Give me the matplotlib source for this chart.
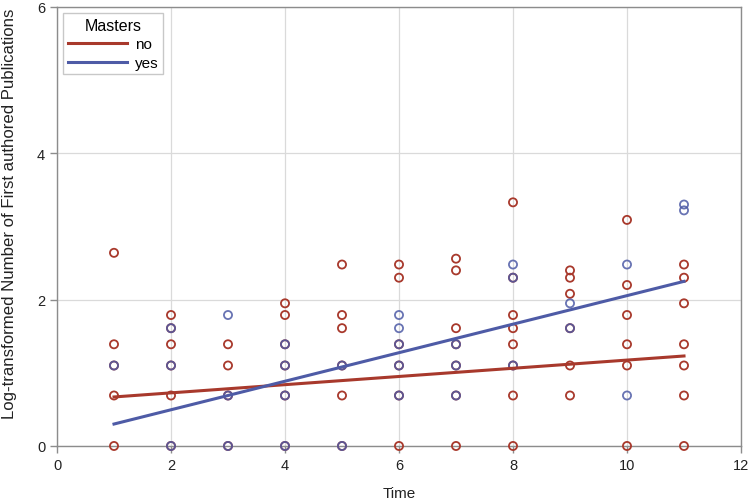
import matplotlib
matplotlib.use("Agg")
import matplotlib.pyplot as plt
from matplotlib import font_manager

# ---- data ----
times = [1, 2, 3, 4, 5, 6, 7, 8, 9, 10, 11]
no_values = [
    [0, 0.69, 1.10, 1.39, 2.64],
    [0, 0.69, 1.10, 1.39, 1.61, 1.79],
    [0, 0.69, 1.10, 1.39],
    [0, 0.69, 1.10, 1.39, 1.79, 1.95],
    [0, 0.69, 1.10, 1.61, 1.79, 2.48],
    [0, 0.69, 1.10, 1.39, 2.30, 2.48],
    [0, 0.69, 1.10, 1.39, 1.61, 2.40, 2.56],
    [0, 0.69, 1.10, 1.39, 1.61, 1.79, 2.30, 3.33],
    [0.69, 1.10, 1.61, 2.08, 2.30, 2.40],
    [0, 1.10, 1.39, 1.79, 2.20, 3.09],
    [0, 0.69, 1.10, 1.39, 1.95, 2.30, 2.48],
]
yes_values = [
    [1.10],
    [0, 1.10, 1.61],
    [0, 0.69, 1.79],
    [0, 0.69, 1.10, 1.39],
    [0, 1.10],
    [0.69, 1.10, 1.39, 1.61, 1.79],
    [0.69, 1.10, 1.39],
    [1.10, 2.30, 2.48],
    [1.61, 1.95],
    [0.69, 2.48],
    [3.22, 3.30],
]
fit_times = [1, 11]
fit_no = [0.67, 1.23]
fit_yes = [0.30, 2.25]
legend_title = "Masters"
group_labels = ["no", "yes"]
xticks = [0, 2, 4, 6, 8, 10, 12]
yticks = [0, 2, 4, 6]

# ---- style ----
names = {f.name for f in font_manager.fontManager.ttflist}
fam = [n for n in ["Liberation Sans Narrow", "Liberation Sans", "DejaVu Sans"] if n in names]
plt.rcParams['font.family'] = fam

RED = "#A8392C"
BLUE = "#4E5BA6"
GRID = "#DADADA"
AXC = "#8C8C8C"

fig = plt.figure(figsize=(7.5, 5.02), dpi=100)
ax = fig.add_axes([0.076, 0.1096, 0.912, 0.8745])

def flat(vals):
    xs, ys = [], []
    for t, v in zip(times, vals):
        xs += [t] * len(v)
        ys += v
    return xs, ys

xn, yn = flat(no_values)
xy, yy = flat(yes_values)
ax.scatter(xn, yn, s=34, facecolors="none", edgecolors=RED, linewidths=1.3, zorder=3, clip_on=False)
ax.scatter(xy, yy, s=34, facecolors="none", edgecolors=BLUE, linewidths=1.3, alpha=0.85, zorder=4, clip_on=False)

ax.plot(fit_times, fit_no, color=RED, lw=2.2, zorder=5, label=group_labels[0])
ax.plot(fit_times, fit_yes, color=BLUE, lw=2.2, zorder=5, label=group_labels[1])

ax.set_xlim(0, 12)
ax.set_ylim(0, 6)
ax.set_xticks(xticks)
ax.set_yticks(yticks)
ax.grid(True, color=GRID, lw=0.9)
ax.set_axisbelow(True)
for s in ax.spines.values():
    s.set_color(AXC)
    s.set_linewidth(1.0)
ax.tick_params(axis="both", colors=AXC, labelcolor="#222222", labelsize=10.5, length=5, width=1)

ax.set_xlabel("Time", fontsize=11, color="#222222", labelpad=10)
ax.set_ylabel("Log-transformed Number of First authored Publications", fontsize=12.1, color="#222222")
ax.yaxis.set_label_coords(-0.059, 0.531)

leg = ax.legend(title=legend_title, loc="upper left", bbox_to_anchor=(0.009, 0.986),
                borderaxespad=0.0,
                fontsize=11, title_fontsize=11.5, frameon=True, fancybox=False,
                handlelength=3.9, handletextpad=0.5, borderpad=0.3, labelspacing=0.3)
leg.get_frame().set_edgecolor("#BBBBBB")
leg.get_frame().set_linewidth(1.0)

fig.savefig("out.png", dpi=100)
